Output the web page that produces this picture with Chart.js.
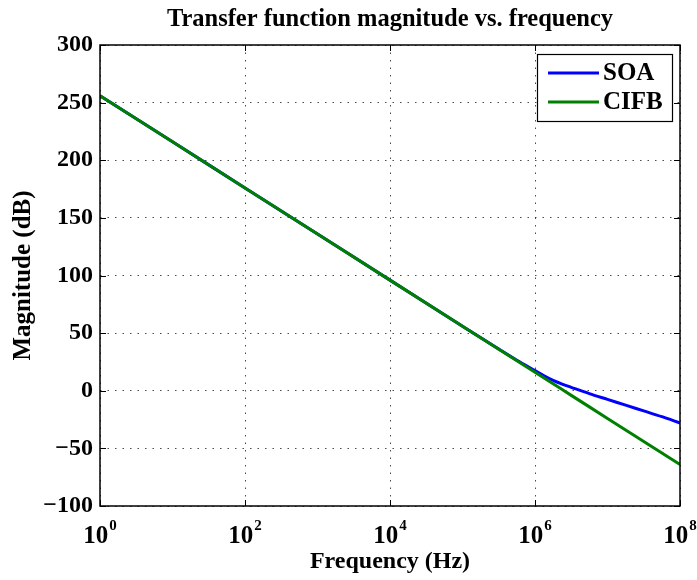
<!DOCTYPE html>
<html>
<head>
<meta charset="utf-8">
<script src="https://cdn.jsdelivr.net/npm/chart.js@4/dist/chart.umd.min.js"></script>
<style>
  html, body { margin: 0; padding: 0; background: #fff; }
  #wrap { width: 697px; height: 580px; }
</style>
</head>
<body>
<div id="wrap"><canvas id="tfChart" width="697" height="580"></canvas></div>
<script>
// frequency points (Hz)
const freqHz = [1, 1e1, 1e2, 1e3, 1e4, 1e5, 3.162e5, 5.623e5, 1e6, 1.334e6, 1.778e6, 2.371e6, 3.162e6, 5.623e6, 1e7, 1.778e7, 3.162e7, 5.623e7, 1e8];
// magnitude in dB
const soaDb  = [256, 216, 176, 136, 96, 56, 36.2, 26.5, 17.5, 13, 9, 5.8, 3, -2.5, -7.5, -12.5, -17.5, -22.5, -28];
const cifbDb = [256, 216, 176, 136, 96, 56, 36, 26, 16, 11, 6, 1, -4, -14, -24, -34, -44, -54, -64];

const xTickVals = [1, 1e2, 1e4, 1e6, 1e8];
const xTickExp = ["0", "2", "4", "6", "8"];
const yTickVals = [-100, -50, 0, 50, 100, 150, 200, 250, 300];

const FONT = "'Liberation Serif', 'Times New Roman', serif";

function toPoints(ys) {
  return freqHz.map((f, i) => ({ x: f, y: ys[i] }));
}

// frame, inward ticks, exponent tick labels, legend and title (matlab look)
const matlabDecor = {
  id: "matlabDecor",
  afterDraw(chart) {
    const ctx = chart.ctx;
    const a = chart.chartArea;
    const xs = chart.scales.x;
    const ys = chart.scales.y;
    ctx.save();

    // box
    ctx.strokeStyle = "#000";
    ctx.lineWidth = 1.5;
    ctx.strokeRect(a.left, a.top, a.right - a.left, a.bottom - a.top);

    // inward ticks
    ctx.lineWidth = 1;
    const tl = 6;
    ctx.beginPath();
    xTickVals.forEach(v => {
      const px = Math.round(xs.getPixelForValue(v)) + 0.5;
      ctx.moveTo(px, a.bottom); ctx.lineTo(px, a.bottom - tl);
      ctx.moveTo(px, a.top); ctx.lineTo(px, a.top + tl);
    });
    yTickVals.forEach(v => {
      const py = Math.round(ys.getPixelForValue(v)) + 0.5;
      ctx.moveTo(a.left, py); ctx.lineTo(a.left + tl, py);
      ctx.moveTo(a.right, py); ctx.lineTo(a.right - tl, py);
    });
    ctx.stroke();

    // x labels as 10^n
    ctx.fillStyle = "#000";
    ctx.textBaseline = "alphabetic";
    xTickVals.forEach((v, i) => {
      const px = xs.getPixelForValue(v);
      ctx.font = "bold 25px " + FONT;
      const wBase = ctx.measureText("10").width;
      ctx.font = "bold 15px " + FONT;
      const wExp = ctx.measureText(xTickExp[i]).width;
      const x0 = px - (wBase + wExp + 1) / 2;
      ctx.font = "bold 25px " + FONT;
      ctx.textAlign = "left";
      ctx.fillText("10", x0, 543);
      ctx.font = "bold 15px " + FONT;
      ctx.fillText(xTickExp[i], x0 + wBase + 1, 530);
    });

    // title
    ctx.font = "bold 24.5px " + FONT;
    ctx.textAlign = "center";
    ctx.fillText("Transfer function magnitude vs. frequency", (a.left + a.right) / 2, 26);

    // legend box
    const lx = 537, ly = 54, lw = 135, lh = 67;
    ctx.fillStyle = "#fff";
    ctx.fillRect(lx, ly, lw, lh);
    ctx.strokeStyle = "#000";
    ctx.lineWidth = 1.2;
    ctx.strokeRect(lx + 0.5, ly + 0.5, lw, lh);
    chart.data.datasets.forEach((ds, i) => {
      const cy = ly + 19 + i * 29;
      ctx.strokeStyle = ds.borderColor;
      ctx.lineWidth = 3;
      ctx.beginPath();
      ctx.moveTo(lx + 11, cy);
      ctx.lineTo(lx + 62, cy);
      ctx.stroke();
      ctx.fillStyle = "#000";
      ctx.font = "bold 25px " + FONT;
      ctx.textAlign = "left";
      ctx.textBaseline = "middle";
      ctx.fillText(ds.label, lx + 66, cy + 1);
    });
    ctx.restore();
  }
};

const ctx = document.getElementById("tfChart").getContext("2d");

new Chart(ctx, {
  type: "line",
  data: {
    datasets: [
      {
        label: "SOA",
        data: toPoints(soaDb),
        borderColor: "#0000ff",
        borderWidth: 3,
        pointRadius: 0,
        cubicInterpolationMode: "monotone",
        fill: false,
        order: 1
      },
      {
        label: "CIFB",
        data: toPoints(cifbDb),
        borderColor: "#008000",
        borderWidth: 3,
        pointRadius: 0,
        tension: 0,
        fill: false,
        order: 0
      }
    ]
  },
  options: {
    responsive: false,
    animation: false,
    layout: { padding: { top: 45, right: 17, left: 0, bottom: 0 } },
    plugins: {
      legend: { display: false },
      title: { display: false },
      tooltip: { enabled: false }
    },
    scales: {
      x: {
        type: "logarithmic",
        min: 1,
        max: 1e8,
        afterBuildTicks: scale => {
          scale.ticks = xTickVals.map(v => ({ value: v }));
        },
        afterFit: scale => { scale.height = 74; },
        ticks: { display: false },
        grid: { color: "rgba(0,0,0,0.7)", lineWidth: 1, drawTicks: false },
        border: { display: false, dash: [1.5, 6] },
        title: {
          display: true,
          text: "Frequency (Hz)",
          color: "#000",
          font: { family: FONT, size: 24, weight: "bold" },
          padding: { top: 0, bottom: 4 }
        }
      },
      y: {
        min: -100,
        max: 300,
        afterBuildTicks: scale => {
          scale.ticks = yTickVals.map(v => ({ value: v }));
        },
        afterFit: scale => { scale.width = 100; },
        ticks: {
          color: "#000",
          padding: 7,
          font: { family: FONT, size: 24, weight: "bold" },
          callback: v => (v < 0 ? "\u2212" + Math.abs(v) : String(v))
        },
        grid: { color: "rgba(0,0,0,0.7)", lineWidth: 1, drawTicks: false },
        border: { display: false, dash: [1.5, 6] },
        title: {
          display: true,
          text: "Magnitude (dB)",
          color: "#000",
          font: { family: FONT, size: 25, weight: "bold" },
          padding: { top: 9, bottom: 0 }
        }
      }
    }
  },
  plugins: [matlabDecor]
});
</script>
</body>
</html>
